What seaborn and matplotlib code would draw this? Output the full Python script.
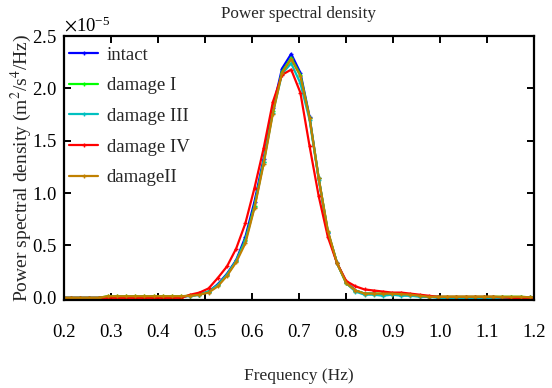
import numpy as np
import pandas as pd
import matplotlib
matplotlib.use("Agg")
import matplotlib.pyplot as plt
import seaborn as sns
from matplotlib.ticker import ScalarFormatter

# frequency bins (Hz), k/51.2 for k = 10..62
freq = [k / 51.2 for k in range(10, 63)]

# PSD values in units of 1e-5 m^2/s^4/Hz
intact = [0.0, 0.0, 0.0, 0.0, 0.0, 0.01, 0.01, 0.01, 0.01, 0.01,
          0.01, 0.01, 0.01, 0.01, 0.02, 0.03, 0.06, 0.13, 0.23, 0.36,
          0.58, 0.92, 1.33, 1.81, 2.19, 2.33, 2.15, 1.73, 1.14, 0.62,
          0.33, 0.15, 0.07, 0.04, 0.04, 0.03, 0.04, 0.03, 0.03, 0.02,
          0.01, 0.01, 0.0, 0.005, 0.005, 0.005, 0.005, 0.005, 0.005, 0.005,
          0.005, 0.005, 0.005]
damage1 = [0.0, 0.0, 0.0, 0.0, 0.0, 0.015, 0.015, 0.015, 0.015, 0.015,
           0.015, 0.015, 0.015, 0.015, 0.02, 0.03, 0.06, 0.12, 0.22, 0.35,
           0.55, 0.88, 1.30, 1.78, 2.16, 2.29, 2.13, 1.72, 1.14, 0.63,
           0.33, 0.14, 0.07, 0.04, 0.04, 0.04, 0.04, 0.035, 0.03, 0.02,
           0.01, 0.01, 0.01, 0.01, 0.01, 0.01, 0.01, 0.01, 0.01, 0.01,
           0.01, 0.005, 0.005]
damage3 = [0.0, 0.0, 0.0, 0.0, 0.0, 0.01, 0.01, 0.01, 0.01, 0.01,
           0.01, 0.01, 0.01, 0.01, 0.02, 0.03, 0.06, 0.12, 0.22, 0.35,
           0.54, 0.87, 1.30, 1.77, 2.14, 2.24, 2.05, 1.70, 1.13, 0.63,
           0.33, 0.14, 0.06, 0.03, 0.03, 0.02, 0.03, 0.02, 0.02, 0.01,
           0.01, 0.0, 0.0, 0.0, 0.0, 0.0, 0.0, 0.0, 0.0, 0.0,
           0.0, 0.0, 0.0]
damage4 = [0.0, 0.0, 0.0, 0.0, 0.0, 0.0, 0.0, 0.0, 0.0, 0.0,
           0.0, 0.0, 0.0, 0.0, 0.03, 0.05, 0.09, 0.19, 0.30, 0.47,
           0.71, 1.05, 1.43, 1.87, 2.13, 2.18, 1.96, 1.45, 0.97, 0.58,
           0.33, 0.16, 0.11, 0.08, 0.07, 0.06, 0.05, 0.05, 0.04, 0.03,
           0.02, 0.01, 0.01, 0.01, 0.01, 0.01, 0.01, 0.01, 0.005, 0.0,
           0.0, 0.0, 0.0]
damage2 = [0.0, 0.0, 0.0, 0.0, 0.0, 0.015, 0.015, 0.015, 0.015, 0.015,
           0.015, 0.015, 0.015, 0.015, 0.02, 0.03, 0.05, 0.11, 0.21, 0.34,
           0.52, 0.86, 1.28, 1.76, 2.15, 2.28, 2.12, 1.72, 1.14, 0.64,
           0.33, 0.14, 0.07, 0.04, 0.04, 0.04, 0.04, 0.035, 0.03, 0.02,
           0.01, 0.01, 0.01, 0.01, 0.01, 0.01, 0.01, 0.01, 0.01, 0.01,
           0.01, 0.005, 0.005]

labels = ["intact", "damage I", "damage III", "damage IV", "damageII"]
colors = ["#0000ff", "#00ff00", "#00c0c0", "#ff0000", "#c08000"]
xticks = [0.2, 0.3, 0.4, 0.5, 0.6, 0.7, 0.8, 0.9, 1.0, 1.1, 1.2]
yticks = [0.0, 0.5, 1.0, 1.5, 2.0, 2.5]

series = [intact, damage1, damage3, damage4, damage2]
df = pd.concat([pd.DataFrame({"freq": freq, "psd": np.array(v) * 1e-5, "case": lab})
                for lab, v in zip(labels, series)], ignore_index=True)

sns.set_theme(style="white")
plt.rcParams["font.family"] = ["Liberation Serif", "DejaVu Serif"]
plt.rcParams["mathtext.fontset"] = "stix"

fig = plt.figure(figsize=(5.52, 3.88), dpi=100)
ax = fig.add_axes([0.116, 0.227, 0.851, 0.680])

sns.lineplot(data=df, x="freq", y="psd", hue="case", hue_order=labels,
             palette=dict(zip(labels, colors)), ax=ax, sort=False,
             marker="+", markersize=3, markeredgewidth=1.0, linewidth=1.6,
             legend=True)
for ln in ax.lines:
    ln.set_markeredgecolor(ln.get_color())

ax.set_xlim(0.2, 1.2)
ax.set_ylim(-0.02e-5, 2.5e-5)
ax.set_xticks(xticks)
ax.set_xticklabels([f"{t:.1f}" for t in xticks])
ax.set_yticks([t * 1e-5 for t in yticks])
fmt = ScalarFormatter(useMathText=True)
fmt.set_powerlimits((0, 0))
ax.yaxis.set_major_formatter(fmt)
ax.yaxis.get_offset_text().set_fontsize(13.5)

for s in ax.spines.values():
    s.set_color("black")
    s.set_linewidth(1.6)
ax.tick_params(axis="both", direction="in", length=5, width=1.4, colors="black",
               top=True, right=True, bottom=True, left=True, labelsize=13.5)
ax.tick_params(axis="x", pad=17)
ax.tick_params(axis="y", pad=5)

ax.set_title("Power spectral density", fontsize=12.3, pad=13)
ax.set_xlabel("Frequency (Hz)", fontsize=12.5, labelpad=20)
ax.set_ylabel("Power spectral density (m$^2$/s$^4$/Hz)", fontsize=14, labelpad=-1.5)

h, l = ax.get_legend_handles_labels()
for hh in h:
    hh.set_markeredgecolor(hh.get_color())
ax.legend(h, l, loc="upper left", bbox_to_anchor=(0.011, 0.96), frameon=False,
          fontsize=13.5, handlelength=1.55, labelspacing=0.72, borderaxespad=0.0,
          borderpad=0.0, handletextpad=0.45)

fig.savefig("out.png", dpi=100)
